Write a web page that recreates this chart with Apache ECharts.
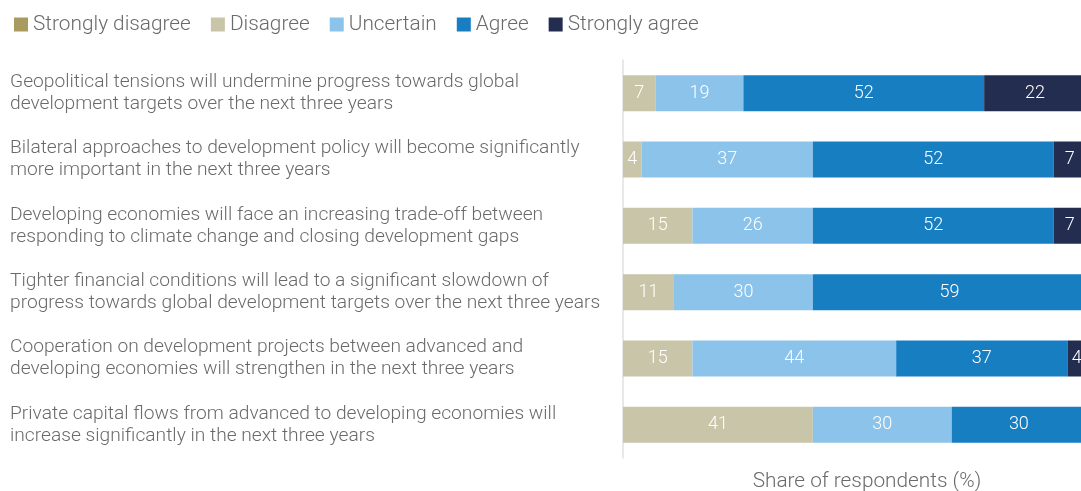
<!DOCTYPE html>
<html>
<head>
<meta charset="utf-8">
<script src="https://cdn.jsdelivr.net/npm/echarts@6/dist/echarts.min.js"></script>
<style>
  html, body { margin: 0; padding: 0; background: #fff; }
  #chart { width: 1081px; height: 491px; }
</style>
</head>
<body>
<div id="chart"></div>
<script>
// Survey statements (top to bottom)
const statements = [
  'Geopolitical tensions will undermine progress towards global\ndevelopment targets over the next three years',
  'Bilateral approaches to development policy will become significantly\nmore important in the next three years',
  'Developing economies will face an increasing trade-off between\nresponding to climate change and closing development gaps',
  'Tighter financial conditions will lead to a significant slowdown of\nprogress towards global development targets over the next three years',
  'Cooperation on development projects between advanced and\ndeveloping economies will strengthen in the next three years',
  'Private capital flows from advanced to developing economies will\nincrease significantly in the next three years'
];

// Share of respondents (%) per answer
const stronglyDisagree = [0, 0, 0, 0, 0, 0];
const disagree         = [7, 4, 15, 11, 15, 41];
const uncertain        = [19, 37, 26, 30, 44, 30];
const agree            = [52, 52, 52, 59, 37, 30];
const stronglyAgree    = [22, 7, 7, 0, 4, 0];

const answerNames = ['Strongly disagree', 'Disagree', 'Uncertain', 'Agree', 'Strongly agree'];
const answerValues = [stronglyDisagree, disagree, uncertain, agree, stronglyAgree];
const answerColors = ['#a89b5f', '#c8c5a8', '#8cc3ea', '#187ec2', '#232d50'];

const FONT = 'Roboto';
const TEXT_GREY = '#6a6a6a';

const series = answerNames.map((name, i) => ({
  name: name,
  type: 'bar',
  stack: 'total',
  barWidth: 36,
  data: answerValues[i],
  itemStyle: { color: answerColors[i] },
  emphasis: { disabled: true },
  label: {
    show: true,
    position: 'inside',
    color: '#ffffff',
    fontFamily: FONT,
    fontWeight: 300,
    fontSize: 18,
    formatter: p => (p.value > 0 ? String(p.value) : '')
  }
}));

const chart = echarts.init(document.getElementById('chart'), null, { renderer: 'canvas' });
chart.setOption({
  animation: false,
  backgroundColor: '#ffffff',
  legend: {
    left: 9,
    top: 9,
    itemWidth: 14,
    itemHeight: 14,
    itemGap: 20,
    icon: 'rect',
    textStyle: { color: TEXT_GREY, fontFamily: FONT, fontWeight: 300, fontSize: 20.8 },
    data: answerNames
  },
  grid: {
    left: 623, top: 60, width: 463, height: 398,
    containLabel: false,
    outerBoundsMode: 'none'
  },
  xAxis: {
    type: 'value',
    min: 0,
    max: 100,
    axisLine: { show: false },
    axisTick: { show: false },
    axisLabel: { show: false },
    splitLine: { show: false },
    name: 'Share of respondents (%)',
    nameLocation: 'middle',
    nameGap: 13,
    nameTextStyle: {
      color: TEXT_GREY, fontFamily: FONT, fontWeight: 300, fontSize: 20.8,
      verticalAlign: 'top',
      padding: [0, 0, 0, 25]
    }
  },
  yAxis: {
    type: 'category',
    inverse: true,
    data: statements,
    axisLine: { show: true, lineStyle: { color: '#e0e0e0', width: 1.5 } },
    axisTick: { show: false },
    axisLabel: {
      align: 'left',
      margin: 613,
      color: TEXT_GREY,
      fontFamily: FONT,
      fontWeight: 300,
      fontSize: 19.2,
      lineHeight: 22,
      padding: [8, 0, 0, 0]
    }
  },
  series: series
});
</script>
</body>
</html>
